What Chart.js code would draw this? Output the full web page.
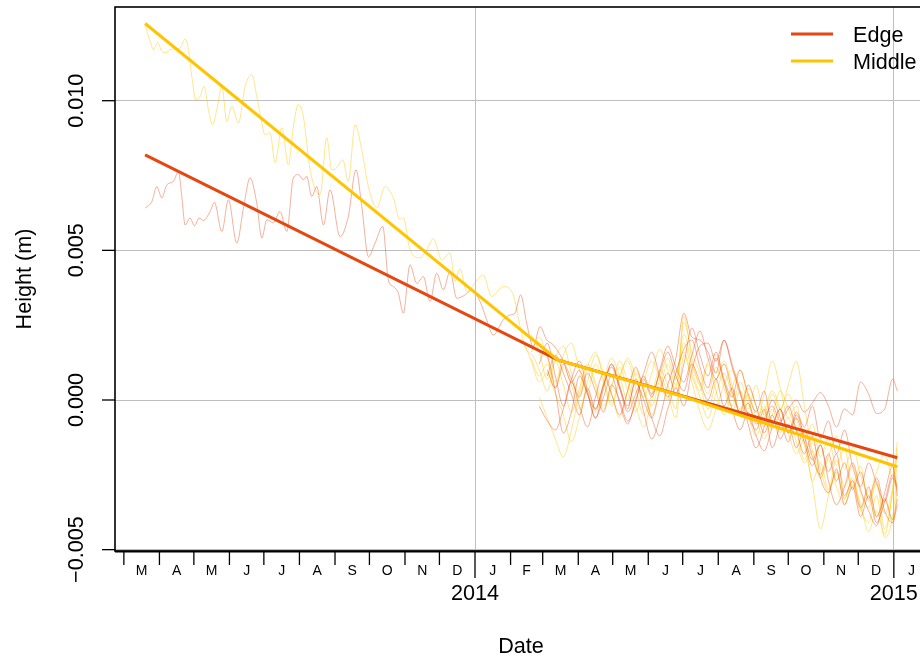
<!DOCTYPE html>
<html>
<head>
<meta charset="utf-8">
<script src="https://cdn.jsdelivr.net/npm/chart.js@4.4.1/dist/chart.umd.min.js"></script>
<style>
  html, body { margin: 0; padding: 0; background: #fff; overflow: hidden; width: 920px; height: 657px; }
  #wrap { width: 960px; height: 657px; }
</style>
</head>
<body>
<div id="wrap"><canvas id="heightChart" width="960" height="657"></canvas></div>
<script>
// x values are days from 2014-01-01, y values are heights in metres

// trend lines (thick)
const edgeTrendDays = [-287.5, 72, 368];
const edgeTrendVals = [0.00819, 0.00134, -0.00193];
const middleTrendDays = [-287.5, 72, 182, 368];
const middleTrendVals = [0.01258, 0.00134, 0.00011, -0.00223];

// single sensors, Mar 2013 - Feb 2014
const middlePreDays = [-287.5,-283.1,-280.2,-276.7,-272.9,-269.4,-265.7,-257.0,-252.6,-249.7,
  -246.8,-243.3,-239.5,-236.1,-232.3,-228.8,-225.0,-220.6,-216.3,-211.9,
  -206.2,-200.3,-194.5,-190.2,-185.8,-182.9,-178.6,-174.2,-168.4,-162.6,
  -158.3,-153.9,-149.6,-143.7,-135.0,-129.2,-124.8,-120.5,-115.2,-110.4,
  -104.5,-98.7,-92.9,-85.6,-78.4,-71.2,-65.3,-62.5,-56.6,-47.9,
  -42.1,-36.3,-29.0,-21.8,-17.4,-13.1,-7.2,0,7.2,14.5,
  24.7,33.4,37.7,43.6,50.8];
const middlePreVals = [0.01254,0.01198,0.01171,0.01195,0.01165,0.01160,0.01171,0.01176,0.01206,0.01171,
  0.01081,0.01003,0.01014,0.01048,0.00970,0.00920,0.00970,0.01048,0.00931,0.00981,
  0.00925,0.01048,0.01087,0.01014,0.00925,0.00886,0.00893,0.00793,0.00910,0.00786,
  0.00914,0.00987,0.00948,0.00769,0.00686,0.00876,0.00769,0.00776,0.00803,0.00730,
  0.00920,0.00836,0.00713,0.00642,0.00713,0.00676,0.00602,0.00609,0.00502,0.00475,
  0.00502,0.00539,0.00468,0.00492,0.00396,0.00438,0.00362,0.00391,0.00418,0.00346,
  0.00379,0.00351,0.00274,0.00178,0.00145];

const edgePreDays = [-287.5,-281.6,-277.3,-272.9,-268.6,-262.8,-258.5,-255.5,-252.6,-248.3,
  -244.5,-240.4,-236.7,-230.8,-227.1,-220.6,-214.9,-207.6,-201.8,-196.0,
  -190.2,-185.8,-181.4,-175.7,-169.9,-164.0,-158.3,-153.9,-149.6,-146.6,
  -142.3,-137.9,-132.1,-126.3,-117.6,-110.4,-103.7,-98.7,-92.9,-87.1,
  -80.4,-75.5,-71.2,-66.8,-62.5,-56.6,-50.8,-45.0,-39.2,-33.4,
  -27.6,-21.8,-15.9,-8.7,-2.9,4.4,10.2,15.9,24.7,30.5,
  34.8,39.8,45.0,50.8,56.6,62.5,68.2];
const edgePreVals = [0.00641,0.00663,0.00713,0.00675,0.00719,0.00730,0.00764,0.00680,0.00585,0.00608,
  0.00582,0.00608,0.00600,0.00630,0.00660,0.00563,0.00669,0.00524,0.00641,0.00742,
  0.00658,0.00541,0.00602,0.00592,0.00630,0.00563,0.00742,0.00753,0.00736,0.00747,
  0.00680,0.00713,0.00585,0.00702,0.00546,0.00613,0.00769,0.00647,0.00479,0.00524,
  0.00580,0.00401,0.00379,0.00357,0.00290,0.00452,0.00390,0.00412,0.00329,0.00424,
  0.00368,0.00429,0.00340,0.00351,0.00368,0.00329,0.00268,0.00217,0.00268,0.00284,
  0.00290,0.00351,0.00257,0.00178,0.00245,0.00201,0.00184];

// all sensors, Feb 2014 - Jan 2015 (weekly)
const postDays = [42,49,56,63,70,77,84,91,98,105,112,119,126,133,140,147,154,161,168,175,
  182,189,196,203,210,217,224,231,238,245,252,259,266,273,280,287,294,301,308,315,
  322,329,336,343,350,357,364,368];

const edge1Post = [null,null,null,null,null, 0.0013,0.0006,0.0010,0.0002,-0.0003,
  0.0005,0.0011,0.0004,-0.0002,0.0006, 0.0000,-0.0006,0.0003,0.0009,0.0002,
  0.0012,0.0024,0.0015,0.0008,0.0016, 0.0007,0.0001,0.0010,0.0002,-0.0004,
  0.0003,-0.0008,-0.0003,-0.0011,-0.0004, -0.0009,-0.0002,-0.0013,-0.0007,-0.0018,
  -0.0010,-0.0022,-0.0029,-0.0021,-0.0028, -0.0034,-0.0026,-0.0030];
const edge2 = [null, 0.0020,0.0019,0.0015,0.0003,-0.0011, -0.0004,0.0008,0.0002,-0.0006,0.0004,
  0.0012,0.0005,-0.0003,0.0007,-0.0004, -0.0013,-0.0006,0.0005,0.0014,0.0029,
  0.0021,0.0020,0.0016,0.0009,0.0020, 0.0011,0.0002,-0.0005,-0.0010,-0.0003,
  -0.0016,-0.0008,-0.0002,-0.0010,-0.0018, -0.0012,-0.0026,-0.0031,-0.0023,-0.0035,
  -0.0029,-0.0039,-0.0032,-0.0041,-0.0034, -0.0025,-0.0029];
const edge3 = [null,null, -0.0002,-0.0007,-0.0010,-0.0003,0.0006, -0.0002,-0.0009,0.0001,0.0009,0.0002,
  -0.0005,0.0003,0.0011,0.0003,-0.0006, -0.0012,-0.0003,0.0004,-0.0002,0.0010,
  0.0018,0.0019,0.0013,0.0020,0.0012, 0.0003,-0.0008,-0.0016,-0.0009,0.0000,
  -0.0006,-0.0014,-0.0005,-0.0012,-0.0020, -0.0015,-0.0024,-0.0018,-0.0032,-0.0027,
  -0.0036,-0.0029,-0.0039,-0.0031,-0.0022, -0.0032];
const edge4 = [null,null,null, 0.0010,0.0004,0.0012,0.0007,0.0001, 0.0009,0.0003,-0.0004,0.0005,0.0000,
  -0.0007,-0.0001,0.0008,0.0002,0.0009, 0.0016,0.0008,0.0003,0.0012,0.0006,
  0.0000,0.0007,-0.0002,0.0004,-0.0005, -0.0001,-0.0008,
  -0.0006,-0.0002,-0.0007,-0.0003,0.0000, -0.0004,-0.0001,0.00025,-0.0002,-0.0009,
  -0.0003,-0.0005,0.0006,0.0002,-0.00045, -0.0003,0.0007,0.0003];
const edge5 = [null,null,null, 0.0008,0.0015,0.0009,0.0002,-0.0005, 0.0004,-0.0003,0.0005,0.0012,0.0004,
  -0.0004,0.0002,0.0009,0.0016,0.0008, 0.0001,0.0009,0.0017,0.0020,0.0011,
  0.0004,0.0014,0.0006,-0.0003,-0.0010, -0.0004,-0.0012,-0.0017,-0.0009,-0.0003,
  -0.0011,-0.0006,-0.0014,-0.0022,-0.0015, -0.0027,-0.0035,-0.0029,-0.0021,-0.0030,
  -0.0037,-0.0042,-0.0033,-0.0040,-0.0033];
const edge6 = [null,null, 0.0012,0.0019,0.0008,-0.0002,0.0007, 0.0013,0.0003,-0.0006,0.0001,0.0008,
  -0.0001,-0.0008,0.0000,0.0007,0.0001, 0.0010,0.0018,0.0011,0.0006,0.0015,
  0.0023,0.0014,0.0007,0.0012,0.0003, -0.0004,0.0005,-0.0002,-0.0011,-0.0005,
  -0.0013,-0.0008,-0.0016,-0.0010,-0.0019, -0.0025,-0.0018,-0.0027,-0.0021,-0.0030,
  -0.0024,-0.0033,-0.0026,-0.0037,-0.0041, -0.0035];

const middle1Post = [null,null, 0.0010,0.0003,0.0014,0.0018,0.0009, 0.0002,0.0011,0.0016,0.0007,-0.0001,
  0.0008,0.0013,0.0004,-0.0005,0.0002, 0.0010,0.0005,-0.0003,0.0028,0.0014,
  0.0005,0.0012,0.0003,-0.0005,0.0004, 0.0010,0.0001,-0.0007,0.0002,0.0013,
  0.0004,-0.0006,-0.0002,-0.0015,-0.0028, -0.0043,-0.0032,-0.0020,-0.0029,-0.0022,
  -0.0031,-0.0036,-0.0027,-0.0043,-0.0030, -0.0016];
const middle2 = [null, 0.0016,0.0021,0.0014,0.0006,0.0015, 0.0019,0.0010,0.0003,0.0012,0.0006,
  -0.0002,0.0007,0.0014,0.0008,0.0001, 0.0009,0.0017,0.0010,0.0004,0.0026,
  0.0016,0.0009,0.0002,0.0011,0.0004, -0.0004,0.0003,-0.0003,0.0005,-0.0005,
  0.0002,-0.0003,0.0005,0.0013,-0.0002, -0.0017,-0.0026,-0.0019,-0.0012,-0.0023,
  -0.0016,-0.0025,-0.0032,-0.0024,-0.0018, -0.0026,-0.0014];
const middle3 = [null,null, 0.0001,-0.0006,-0.0013,-0.0019,-0.0010, 0.0002,0.0011,0.0005,-0.0003,0.0004,
  0.0013,0.0006,-0.0002,-0.0009,0.0000, 0.0008,0.0002,-0.0006,0.0015,0.0006,
  -0.0004,-0.0010,-0.0003,0.0005,0.0010, 0.0003,-0.0005,-0.0012,-0.0004,0.0003,
  -0.0003,-0.0011,-0.0018,-0.0013,-0.0027, -0.0021,-0.0030,-0.0024,-0.0033,-0.0026,
  -0.0036,-0.0041,-0.0032,-0.0046,-0.0039, -0.0025];
const middle4 = [0.0020,0.0013,0.0006,0.0009,0.0002, -0.0005,-0.0014,-0.0006,0.0003,-0.0004,
  0.0006,0.0014,0.0008,0.0000,0.0009, 0.0003,-0.0005,0.0004,0.0012,0.0005,
  0.0019,0.0010,0.0003,0.0013,0.0015, 0.0006,-0.0002,0.0006,-0.0001,-0.0007,
  -0.0002,-0.0010,-0.0004,0.0002,-0.0006, -0.0014,-0.0008,-0.0019,-0.0013,-0.0022,
  -0.0016,-0.0029,-0.0022,-0.0034,-0.0028, -0.0038,-0.0029,-0.0018];
const middle5 = [null, 0.0014,0.0008,0.0012,0.0004,0.0011, 0.0005,-0.0003,0.0006,0.0015,0.0009,
  0.0002,-0.0006,0.0003,0.0010,0.0004, -0.0002,0.0007,0.0014,0.0007,0.0022,
  0.0012,0.0005,-0.0003,0.0006,0.0013, 0.0005,-0.0004,0.0002,-0.0006,-0.0013,
  -0.0005,0.0003,-0.0003,-0.0010,-0.0020, -0.0014,-0.0023,-0.0031,-0.0024,-0.0033,
  -0.0027,-0.0035,-0.0044,-0.0037,-0.0045, -0.0031,-0.0022];
const middle6 = [null, 0.0022,0.0016,0.0007,0.0013,0.0005, -0.0004,0.0004,0.0012,0.0006,-0.0002,
  0.0005,0.0011,0.0003,-0.0004,0.0006, 0.0013,0.0007,0.0000,0.0009,0.0016,
  0.0008,0.0001,-0.0006,0.0002,0.0009, 0.0002,-0.0003,0.0004,-0.0002,-0.0009,
  -0.0003,-0.0011,-0.0006,-0.0014,-0.0021, -0.0017,-0.0026,-0.0020,-0.0029,-0.0035,
  -0.0028,-0.0037,-0.0030,-0.0039,-0.0033, -0.0041,-0.0030];

const yTicks = [-0.005, 0, 0.005, 0.010];
const yTickLabels = ['\u22120.005', '0.000', '0.005', '0.010'];
const monthLetters = ['J','F','M','A','M','J','J','A','S','O','N','D'];
const legendLabels = ['Edge', 'Middle'];

const EDGE = '#e6460f';
const MIDDLE = '#ffc400';
const EDGE_THIN = 'rgba(230,70,20,0.42)';
const MIDDLE_THIN = 'rgba(255,200,0,0.46)';
const FONT = '"Liberation Sans", Arial, Helvetica, sans-serif';

function dayOf(y, m) {
  return (Date.UTC(y, m, 1) - Date.UTC(2014, 0, 1)) / 86400000;
}

function points(days, vals) {
  const out = [];
  days.forEach((d, i) => {
    if (vals[i] !== null && vals[i] !== undefined) out.push({ x: d, y: vals[i] });
  });
  return out;
}

function thin(data, color) {
  return {
    data: data, borderColor: color, borderWidth: 1, pointRadius: 0,
    cubicInterpolationMode: 'monotone', fill: false
  };
}

const datasets = [
  { data: points(middleTrendDays, middleTrendVals), borderColor: MIDDLE, borderWidth: 3, pointRadius: 0, tension: 0 },
  { data: points(edgeTrendDays, edgeTrendVals), borderColor: EDGE, borderWidth: 3, pointRadius: 0, tension: 0 },
  thin(points(edgePreDays, edgePreVals).concat(points(postDays, edge1Post)), EDGE_THIN),
  thin(points(postDays, edge2), EDGE_THIN),
  thin(points(postDays, edge3), EDGE_THIN),
  thin(points(postDays, edge4), EDGE_THIN),
  thin(points(postDays, edge5), EDGE_THIN),
  thin(points(postDays, edge6), EDGE_THIN),
  thin(points(middlePreDays, middlePreVals).concat(points(postDays, middle1Post)), MIDDLE_THIN),
  thin(points(postDays, middle2), MIDDLE_THIN),
  thin(points(postDays, middle3), MIDDLE_THIN),
  thin(points(postDays, middle4), MIDDLE_THIN),
  thin(points(postDays, middle5), MIDDLE_THIN),
  thin(points(postDays, middle6), MIDDLE_THIN)
];

// R style frame, axes, labels and legend
const rAxes = {
  id: 'rAxes',
  afterDatasetsDraw(chart) {
    const { ctx, chartArea: a, scales: { x, y } } = chart;
    ctx.save();
    ctx.strokeStyle = '#000';
    ctx.fillStyle = '#000';

    // box
    ctx.lineWidth = 1.6;
    ctx.strokeRect(a.left, a.top, a.right - a.left, a.bottom - a.top);
    ctx.lineWidth = 2;
    ctx.beginPath();
    ctx.moveTo(a.left, a.bottom + 0.5);
    ctx.lineTo(chart.width, a.bottom + 0.5);
    ctx.stroke();

    // y axis
    ctx.lineWidth = 1.3;
    ctx.font = '21.6px ' + FONT;
    ctx.textAlign = 'center';
    ctx.textBaseline = 'alphabetic';
    yTicks.forEach((v, i) => {
      const py = y.getPixelForValue(v);
      ctx.beginPath();
      ctx.moveTo(a.left - 13, py);
      ctx.lineTo(a.left, py);
      ctx.stroke();
      ctx.save();
      ctx.translate(83, py);
      ctx.rotate(-Math.PI / 2);
      ctx.fillText(yTickLabels[i], 0, 0);
      ctx.restore();
    });

    // x axis: months and years
    for (let yr = 2013; yr <= 2015; yr++) {
      for (let m = 0; m < 12; m++) {
        if (yr === 2013 && m < 2) continue;
        if (yr === 2015 && m > 1) break;
        const px = x.getPixelForValue(dayOf(yr, m));
        const mid = x.getPixelForValue((dayOf(yr, m) + dayOf(yr, m + 1)) / 2);
        if (px < a.left || px > chart.width) continue;
        ctx.lineWidth = 1.3;
        ctx.beginPath();
        ctx.moveTo(px, a.bottom + 1);
        ctx.lineTo(px, a.bottom + (m === 0 ? 27 : 14));
        ctx.stroke();
        ctx.font = '14px ' + FONT;
        ctx.textBaseline = 'alphabetic';
        ctx.fillText(monthLetters[m], mid, 575);
        if (m === 0) {
          ctx.font = '21.6px ' + FONT;
          ctx.fillText(String(yr), px, 600);
        }
      }
    }

    // axis titles
    ctx.font = '21.6px ' + FONT;
    ctx.fillText('Date', (a.left + a.right) / 2, 653);
    ctx.save();
    ctx.translate(31, (a.top + a.bottom) / 2);
    ctx.rotate(-Math.PI / 2);
    ctx.fillText('Height (m)', 0, 0);
    ctx.restore();

    // legend
    [EDGE, MIDDLE].forEach((c, i) => {
      const ly = 34 + i * 27;
      ctx.strokeStyle = c;
      ctx.lineWidth = 3;
      ctx.beginPath();
      ctx.moveTo(791, ly);
      ctx.lineTo(833, ly);
      ctx.stroke();
      ctx.textAlign = 'left';
      ctx.fillText(legendLabels[i], 853, ly + 8);
    });
    ctx.restore();
  }
};

const ctx = document.getElementById('heightChart').getContext('2d');
new Chart(ctx, {
  type: 'line',
  data: { datasets: datasets },
  options: {
    responsive: false,
    animation: false,
    devicePixelRatio: 1,
    layout: { padding: { left: 0, top: 7, right: 33, bottom: 0 } },
    plugins: { legend: { display: false }, tooltip: { enabled: false } },
    scales: {
      x: {
        type: 'linear',
        min: (115 - 475) / 1.1475,
        max: (927 - 475) / 1.1475,
        afterBuildTicks: s => { s.ticks = [dayOf(2014, 0), dayOf(2015, 0)].map(v => ({ value: v })); },
        afterFit: s => { s.height = 106; },
        ticks: { display: false },
        grid: { color: '#bebebe', lineWidth: 1, drawTicks: false },
        border: { display: false }
      },
      y: {
        min: -151 / 29930,
        max: 393 / 29930,
        afterBuildTicks: s => { s.ticks = yTicks.map(v => ({ value: v })); },
        afterFit: s => { s.width = 115; },
        ticks: { display: false },
        grid: { color: '#bebebe', lineWidth: 1, drawTicks: false },
        border: { display: false }
      }
    }
  },
  plugins: [rAxes]
});
</script>
</body>
</html>
